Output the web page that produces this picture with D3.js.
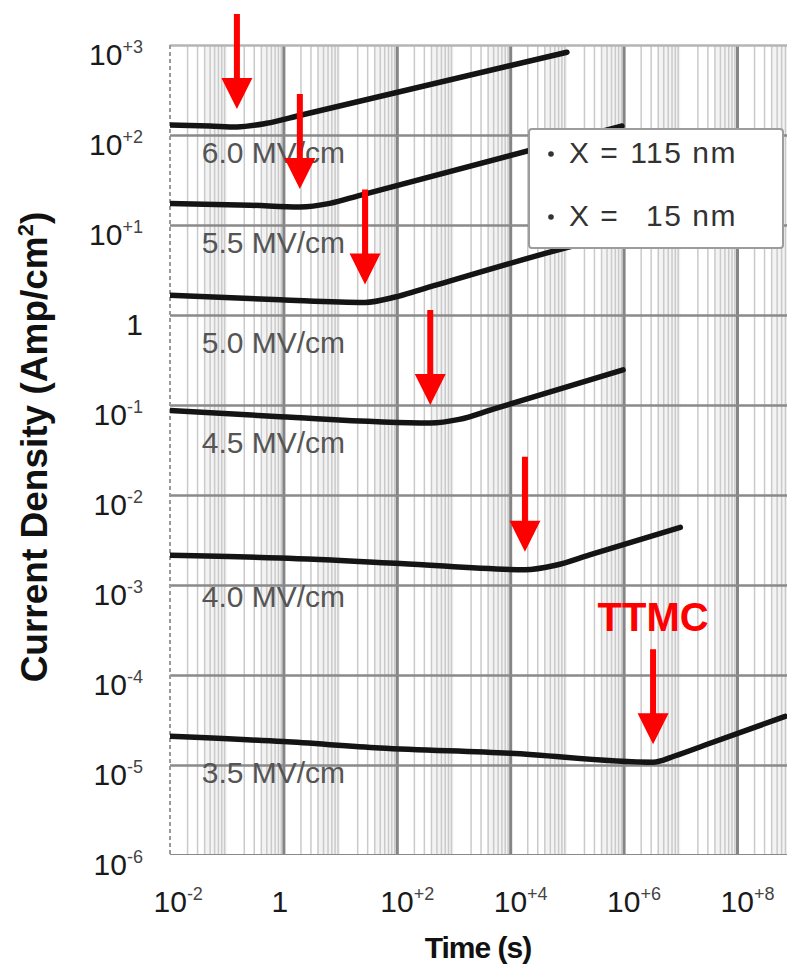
<!DOCTYPE html>
<html>
<head>
<meta charset="utf-8">
<title>TTMC</title>
<script src="https://cdn.jsdelivr.net/npm/d3@7"></script>
<style>
  body { margin: 0; background: #fff; }
  text { font-family: "Liberation Sans", Arial, sans-serif; }
</style>
</head>
<body>
<script>
// values: [log10 time (s), log10 current density (A/cm2)]
var fields = ["6.0 MV/cm", "5.5 MV/cm", "5.0 MV/cm", "4.5 MV/cm", "4.0 MV/cm", "3.5 MV/cm"];
var curve60 = [[-2, 2.11], [-1.3, 2.10], [-0.82, 2.09], [-0.3, 2.13], [0.3, 2.22], [5.0, 2.92]];
var curve55 = [[-2, 1.24], [-0.59, 1.22], [0.29, 1.20], [0.82, 1.24], [1.35, 1.33], [5.97, 2.10]];
var curve50 = [[-2, 0.22], [-0.06, 0.17], [1.44, 0.14], [1.97, 0.20], [2.41, 0.28], [4.65, 0.69], [6.02, 0.92]];
var curve45 = [[-2, -1.06], [-0.06, -1.13], [2.59, -1.20], [3.1, -1.16], [3.7, -1.046], [5.99, -0.61]];
var curve40 = [[-2, -2.67], [-0.06, -2.70], [2.06, -2.76], [4.26, -2.83], [4.8, -2.78], [5.4, -2.665], [7.0, -2.36]];
var curve35 = [[-2, -4.68], [0, -4.74], [1.70, -4.81], [4.0, -4.87], [6.52, -4.97], [6.9, -4.90], [7.5, -4.764], [8.85, -4.46]];
var curves = [curve60, curve55, curve50, curve45, curve40, curve35];
// index of the turn-around point (TTMC) on each curve
var kneeIndex = [2, 2, 2, 2, 3, 4];
var xDecades = [-2, 0, 2, 4, 6, 8];
var yDecades = [3, 2, 1, 0, -1, -2, -3, -4, -5, -6];
var legendItems = [["X =", "115 nm"], ["X =", "15 nm"]];

var width = 787, height = 968;
var pLeft = 170, pRight = 793.7, pTop = 45, pBottom = 855;
var labelDy = [38, 50, 58, 43, 52, 47];

var svg = d3.select("body").append("svg")
    .attr("width", width)
    .attr("height", height);

var x = d3.scaleLog().domain([1e-2, 1e9]).range([pLeft, pRight]);
var y = d3.scaleLog().domain([1e-6, 1e3]).range([pBottom, pTop]);
var p10 = function (v) { return Math.pow(10, v); };

svg.append("defs").append("clipPath").attr("id", "plot")
    .append("rect").attr("x", pLeft).attr("y", pTop - 10)
    .attr("width", pRight - pLeft).attr("height", pBottom - pTop + 10);

// minor vertical grid
var minors = [];
for (var d = -2; d < 9; d++) {
    for (var k = 2; k < 10; k++) minors.push(k * p10(d));
}
var bands = [];
for (var d = -2; d < 9; d++) bands.push(d);

var grid = svg.append("g").attr("clip-path", "url(#plot)");
grid.selectAll("rect.band")
    .data(bands)
    .enter()
    .append("rect")
    .attr("x", function (d) { return x(4 * p10(d)); })
    .attr("width", function (d) { return x(p10(d + 1)) - x(4 * p10(d)); })
    .attr("y", pTop)
    .attr("height", pBottom - pTop)
    .attr("fill", "#f3f3f3");

grid.append("g")
    .attr("transform", "translate(0," + pBottom + ")")
    .call(d3.axisBottom(x).tickValues(minors).tickSize(-(pBottom - pTop)).tickFormat(""))
    .call(function (g) {
        g.select(".domain").remove();
        g.selectAll("line").attr("stroke", "#cacaca").attr("stroke-width", 1.5);
    });

grid.append("g")
    .attr("transform", "translate(0," + pBottom + ")")
    .call(d3.axisBottom(x).tickValues(xDecades.slice(1).map(p10)).tickSize(-(pBottom - pTop)).tickFormat(""))
    .call(function (g) {
        g.select(".domain").remove();
        g.selectAll("line").attr("stroke", "#858585").attr("stroke-width", 3);
    });

grid.append("g")
    .attr("transform", "translate(" + pLeft + ",0)")
    .call(d3.axisLeft(y).tickValues(yDecades.map(p10)).tickSize(-(pRight - pLeft)).tickFormat(""))
    .call(function (g) {
        g.select(".domain").remove();
        g.selectAll("line")
            .attr("stroke", function (d) { return d === 1e3 ? "#b5b5b5" : "#8a8a8a"; })
            .attr("stroke-width", function (d) { return d === 1e-6 ? 3 : 2.5; });
    });

// dashed left border
svg.append("line")
    .attr("x1", pLeft).attr("x2", pLeft)
    .attr("y1", pTop).attr("y2", pBottom)
    .attr("stroke", "#9a9a9a")
    .attr("stroke-width", 2)
    .attr("stroke-dasharray", "4,3");

// tick labels
function expLabel(t, e) {
    t.text(null);
    if (e === 0) {
        t.append("tspan").text("1");
    } else {
        t.append("tspan").text("10");
        t.append("tspan").attr("dy", -12).attr("font-size", 18).attr("fill", "#444")
            .text((e > 0 ? "+" : "-") + Math.abs(e));
    }
}

svg.append("g")
    .attr("transform", "translate(" + pLeft + ",0)")
    .call(d3.axisLeft(y).tickValues(yDecades.map(p10)).tickSize(0).tickPadding(27))
    .call(function (g) {
        g.select(".domain").remove();
        g.selectAll("text")
            .attr("font-size", 30)
            .attr("fill", "#1a1a1a")
            .attr("dy", 19)
            .each(function (d) { expLabel(d3.select(this), Math.round(Math.log10(d))); });
    });

svg.append("g")
    .attr("transform", "translate(0," + pBottom + ")")
    .call(d3.axisBottom(x).tickValues(xDecades.map(p10)).tickSize(0))
    .call(function (g) {
        g.select(".domain").remove();
        g.selectAll("text")
            .attr("font-size", 30)
            .attr("fill", "#1a1a1a")
            .attr("y", 0)
            .attr("dy", 57)
            .attr("text-anchor", function (d) { return d === 1 ? "middle" : "start"; })
            .attr("x", function (d) { return d === 1 ? -4 : -17; })
            .each(function (d) { expLabel(d3.select(this), Math.round(Math.log10(d))); });
    });

// axis titles
svg.append("text")
    .attr("x", 478).attr("y", 958)
    .attr("text-anchor", "middle")
    .attr("font-size", 30)
    .attr("font-weight", "bold")
    .attr("letter-spacing", -1)
    .attr("fill", "#111")
    .text("Time (s)");

var yt = svg.append("text")
    .attr("transform", "translate(47,447) rotate(-90)")
    .attr("text-anchor", "middle")
    .attr("font-size", 37)
    .attr("font-weight", "bold")
    .attr("fill", "#111");
yt.append("tspan").text("Current Density (Amp/cm");
yt.append("tspan").attr("dy", -14).attr("font-size", 22).text("2");
yt.append("tspan").attr("dy", 14).text(")");

// curves
var line = d3.line()
    .x(function (d) { return x(p10(d[0])); })
    .y(function (d) { return y(p10(d[1])); })
    .curve(d3.curveMonotoneX);

var plot = svg.append("g").attr("clip-path", "url(#plot)");
plot.selectAll("path.curve")
    .data(curves)
    .enter()
    .append("path")
    .attr("class", "curve")
    .attr("d", line)
    .attr("fill", "none")
    .attr("stroke", "#141414")
    .attr("stroke-width", 5.5)
    .attr("stroke-linecap", "round");

// field labels
svg.selectAll("text.field")
    .data(fields)
    .enter()
    .append("text")
    .attr("class", "field")
    .attr("x", x(p10(-1.44)))
    .attr("y", function (d, i) { return y(p10(curves[i][0][1])) + labelDy[i]; })
    .attr("font-size", 30)
    .attr("fill", "#555")
    .text(function (d) { return d; });

// legend
var lg = svg.append("g");
lg.append("rect")
    .attr("x", 529).attr("y", 129)
    .attr("width", 254).attr("height", 119)
    .attr("rx", 3)
    .attr("fill", "#fff")
    .attr("stroke", "#9c9c9c")
    .attr("stroke-width", 2);
legendItems.forEach(function (it, i) {
    var by = 163 + i * 63;
    lg.append("circle").attr("cx", 551).attr("cy", by - 9).attr("r", 2.8).attr("fill", "#333");
    lg.append("text").attr("x", 569).attr("y", by)
        .attr("font-size", 30).attr("letter-spacing", 1.5).attr("fill", "#333").text(it[0]);
    lg.append("text").attr("x", 737).attr("y", by)
        .attr("text-anchor", "end")
        .attr("font-size", 30).attr("letter-spacing", 1.5).attr("fill", "#333").text(it[1]);
});

// red arrows at the turn-around points
function arrowPath(tx, ty) {
    var len = 95, hw = 15.5, hh = 31, sw = 3;
    return "M" + (tx - sw) + "," + (ty - len) +
        "L" + (tx + sw) + "," + (ty - len) +
        "L" + (tx + sw) + "," + (ty - hh) +
        "L" + (tx + hw) + "," + (ty - hh) +
        "L" + tx + "," + ty +
        "L" + (tx - hw) + "," + (ty - hh) +
        "L" + (tx - sw) + "," + (ty - hh) + "Z";
}
var knees = curves.map(function (c, i) { return c[kneeIndex[i]]; });
svg.selectAll("path.arrow")
    .data(knees)
    .enter()
    .append("path")
    .attr("class", "arrow")
    .attr("d", function (d) { return arrowPath(x(p10(d[0])), y(p10(d[1])) - 18); })
    .attr("fill", "#ff0000");

var last = knees[knees.length - 1];
svg.append("text")
    .attr("x", x(p10(last[0])))
    .attr("y", y(p10(last[1])) - 18 - 113)
    .attr("text-anchor", "middle")
    .attr("font-size", 40)
    .attr("font-weight", "bold")
    .attr("fill", "#ff0000")
    .text("TTMC");
</script>
</body>
</html>
